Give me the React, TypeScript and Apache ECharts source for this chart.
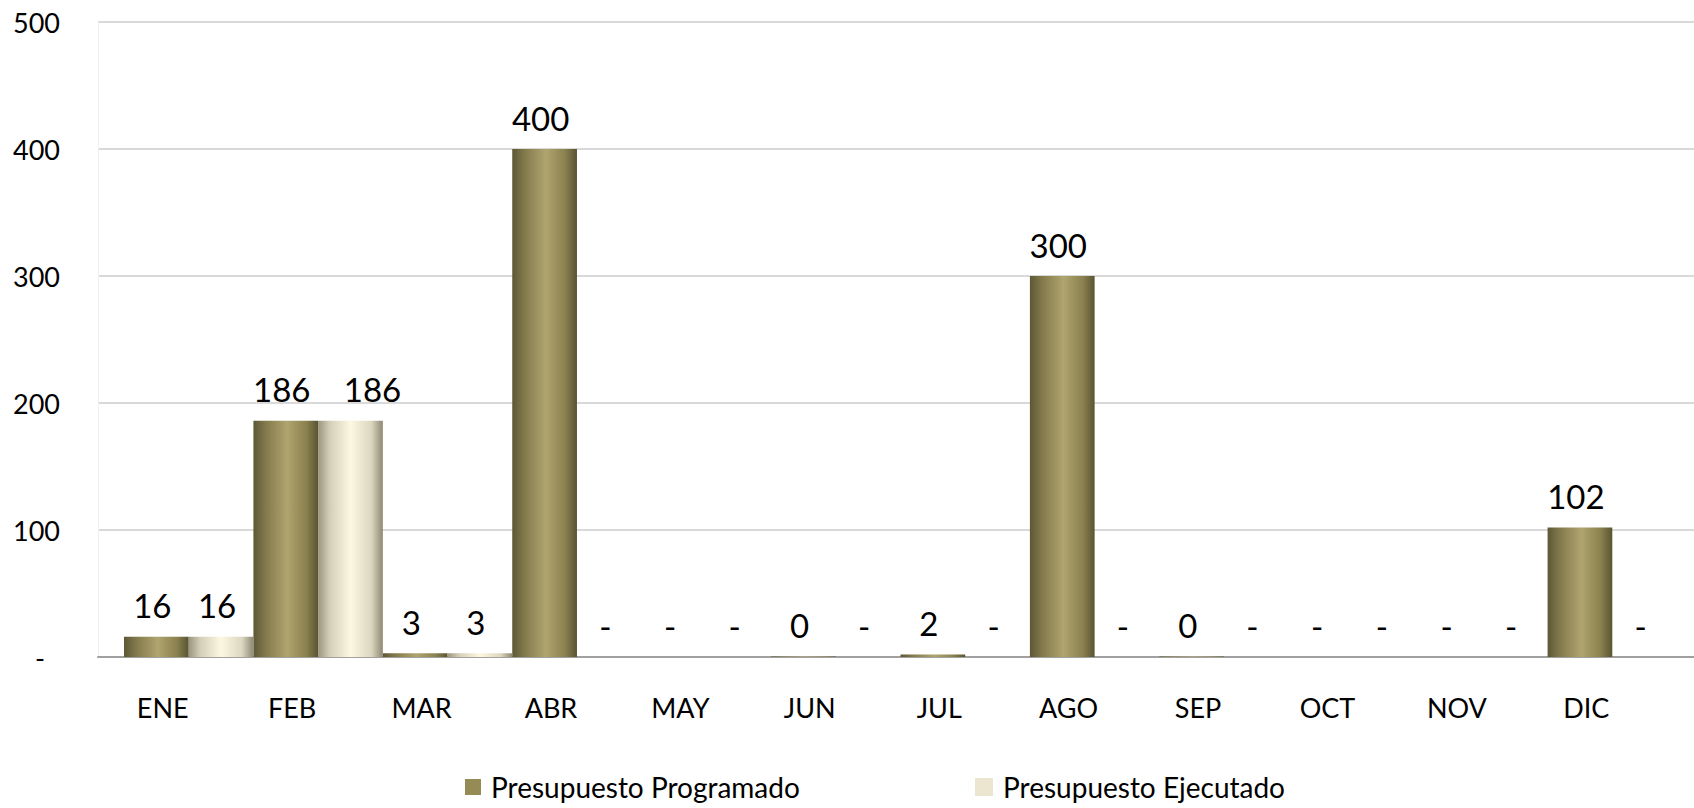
import React, { useEffect, useRef } from "react";
import * as echarts from "echarts";

const months = ["ENE", "FEB", "MAR", "ABR", "MAY", "JUN", "JUL", "AGO", "SEP", "OCT", "NOV", "DIC"];
const programado = [16, 186, 3, 400, 0, 0.3, 2, 300, 0.3, 0, 0, 102];
const ejecutado = [16, 186, 3, 0, 0, 0, 0, 0, 0, 0, 0, 0];
const seriesNames = ["Presupuesto Programado", "Presupuesto Ejecutado"];
const yMin = 0;
const yMax = 500;
const yStep = 100;

const FONT = "Lato";

export default function App() {
  const ref = useRef<HTMLDivElement>(null);

  useEffect(() => {
    if (!ref.current) return;
    const chart = echarts.init(ref.current, undefined, { renderer: "svg" });

    const progGrad = new echarts.graphic.LinearGradient(0, 0, 1, 0, [
      { offset: 0, color: "#5c5735" },
      { offset: 0.18, color: "#81784b" },
      { offset: 0.52, color: "#b0a56f" },
      { offset: 0.82, color: "#8a814f" },
      { offset: 1, color: "#595332" },
    ]);
    const ejecGrad = new echarts.graphic.LinearGradient(0, 0, 1, 0, [
      { offset: 0, color: "#9a9680" },
      { offset: 0.18, color: "#d3cfb8" },
      { offset: 0.5, color: "#fdf8e2" },
      { offset: 0.82, color: "#dcd7c0" },
      { offset: 1, color: "#8c8873" },
    ]);

    const labelBase = {
      show: true,
      position: "top" as const,
      distance: 15,
      offset: [-4, 0],
      fontFamily: FONT,
      fontSize: 33,
      color: "#000",
      formatter: (p: any) => (p.value === 0 ? "-" : String(Math.round(p.value))),
    };

    const gridTop = 22;
    const gridH = 635;

    chart.setOption({
      animation: false,
      backgroundColor: "#fff",
      grid: [
        { left: 98, right: 0, top: gridTop, height: gridH },
        { left: 98, width: 1553, top: gridTop, height: gridH },
        { left: 124, width: 1553, top: gridTop, height: gridH },
      ],
      xAxis: [
        {
          gridIndex: 0,
          type: "category",
          data: months,
          axisLine: { show: true, lineStyle: { color: "#a0a0a0", width: 2 } },
          axisTick: { show: false },
          axisLabel: { show: false },
        },
        {
          gridIndex: 1,
          type: "category",
          data: months,
          axisLine: { show: false },
          axisTick: { show: false },
          axisLabel: { fontFamily: FONT, fontSize: 27, color: "#000", margin: 37 },
        },
        {
          gridIndex: 2,
          type: "category",
          data: months,
          show: false,
        },
      ],
      yAxis: [
        {
          gridIndex: 0,
          type: "value",
          min: yMin,
          max: yMax,
          interval: yStep,
          axisLine: { show: true, lineStyle: { color: "#f0f0f0", width: 1 } },
          axisTick: { show: false },
          splitLine: { lineStyle: { color: "#d9d9d9", width: 2 } },
          axisLabel: {
            fontFamily: FONT,
            fontSize: 27,
            color: "#000",
            margin: 38,
            formatter: (v: number) => (v === 0 ? "{d|-}" : String(v)),
            rich: { d: { fontFamily: FONT, fontSize: 27, color: "#000", padding: [0, 15, 0, 0] } },
          },
        },
        { gridIndex: 1, type: "value", min: yMin, max: yMax, interval: yStep, show: false },
        { gridIndex: 2, type: "value", min: yMin, max: yMax, interval: yStep, show: false },
      ],
      legend: [
        {
          data: [{ name: seriesNames[0], itemStyle: { color: "#958b55" } }],
          left: 460,
          top: 768,
          icon: "rect",
          itemWidth: 16,
          itemHeight: 16,
          textStyle: { fontFamily: FONT, fontSize: 28, color: "#000", padding: [0, 0, 0, 5] },
        },
        {
          data: [{ name: seriesNames[1], itemStyle: { color: "#ece6d0" } }],
          left: 970,
          top: 768,
          icon: "rect",
          itemWidth: 18,
          itemHeight: 18,
          textStyle: { fontFamily: FONT, fontSize: 28, color: "#000", padding: [0, 0, 0, 5] },
        },
      ],
      series: [
        {
          name: seriesNames[0],
          type: "bar",
          xAxisIndex: 2,
          yAxisIndex: 2,
          data: programado,
          barGap: "0%",
          barCategoryGap: "0%",
          itemStyle: { color: progGrad },
          label: labelBase,
          z: 3,
        },
        {
          name: seriesNames[1],
          type: "bar",
          xAxisIndex: 2,
          yAxisIndex: 2,
          data: ejecutado.map((v, i) =>
            i === 1 ? { value: v, label: { offset: [22, 0] } } : v
          ),
          barGap: "0%",
          barCategoryGap: "0%",
          itemStyle: { color: ejecGrad },
          label: labelBase,
          z: 3,
        },
      ],
    });

    return () => chart.dispose();
  }, []);

  return (
    <div
      ref={ref}
      style={{ position: "fixed", left: 0, top: 0, width: 1694, height: 808, background: "#fff" }}
    />
  );
}
